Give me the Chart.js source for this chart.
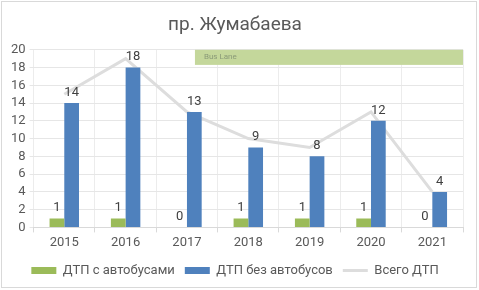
<!DOCTYPE html>
<html lang="ru">
<head>
    <meta charset="UTF-8">
    <title>пр. Жумабаева</title>
    <script src="https://cdn.jsdelivr.net/npm/chart.js"></script>
    <style>
        body {
            margin: 0;
            background: #ffffff;
            font-family: 'Roboto', sans-serif;
        }

        .chart-box {
            position: relative;
            width: 479px;
            height: 290px;
        }

        .chart-frame {
            position: absolute;
            left: 1px;
            top: 1px;
            width: 474px;
            height: 285px;
            border: 1px solid #d9d9d9;
            pointer-events: none;
        }
    </style>
</head>
<body>
    <div class="chart-box">
        <canvas id="accidentChart" width="479" height="290"></canvas>
        <div class="chart-frame"></div>
    </div>

    <script>
        // Data
        const years = ['2015', '2016', '2017', '2018', '2019', '2020', '2021'];
        const withBuses = [1, 1, 0, 1, 1, 1, 0];
        const withoutBuses = [14, 18, 13, 9, 8, 12, 4];
        const totalAccidents = [15, 19, 13, 10, 9, 13, 4];
        const yTicks = [0, 2, 4, 6, 8, 10, 12, 14, 16, 18, 20];

        // Bus Lane band, in scale units (category index / value)
        const busLaneX = [2.13, 6.5];
        const busLaneY = [18.3, 20];

        const textColor = '#595959';

        // green "Bus Lane" band behind the bars
        const busLanePlugin = {
            id: 'busLane',
            beforeDatasetsDraw(chart) {
                const { ctx, scales: { x, y } } = chart;
                const left = x.getPixelForValue(busLaneX[0]);
                const right = Math.min(x.getPixelForValue(busLaneX[1]), chart.chartArea.right);
                const top = y.getPixelForValue(busLaneY[1]);
                const bottom = y.getPixelForValue(busLaneY[0]);
                ctx.save();
                ctx.fillStyle = '#c4d79b';
                ctx.fillRect(left, top, right - left, bottom - top);
                ctx.fillStyle = '#8a9a78';
                ctx.font = '8px Roboto';
                ctx.textBaseline = 'middle';
                ctx.fillText('Bus Lane', left + 9, (top + bottom) / 2);
                ctx.restore();
            }
        };

        // value labels above each bar
        const barLabelsPlugin = {
            id: 'barLabels',
            afterDatasetsDraw(chart) {
                const { ctx } = chart;
                ctx.save();
                ctx.fillStyle = '#404040';
                ctx.font = '13px Roboto';
                ctx.textAlign = 'center';
                ctx.textBaseline = 'bottom';
                chart.data.datasets.forEach((ds, i) => {
                    if (ds.type !== 'bar') return;
                    chart.getDatasetMeta(i).data.forEach((bar, j) => {
                        ctx.fillText(ds.data[j], bar.x, bar.y - 4);
                    });
                });
                ctx.restore();
            }
        };

        const ctx = document.getElementById('accidentChart').getContext('2d');
        new Chart(ctx, {
            data: {
                labels: years,
                datasets: [
                    {
                        type: 'bar',
                        label: 'ДТП с автобусами',
                        data: withBuses,
                        backgroundColor: '#9bbb59',
                        pointStyle: 'rect',
                        categoryPercentage: 0.48,
                        barPercentage: 1,
                        order: 1
                    },
                    {
                        type: 'bar',
                        label: 'ДТП без автобусов',
                        data: withoutBuses,
                        backgroundColor: '#4f81bd',
                        pointStyle: 'rect',
                        categoryPercentage: 0.48,
                        barPercentage: 1,
                        order: 1
                    },
                    {
                        type: 'line',
                        label: 'Всего ДТП',
                        data: totalAccidents,
                        borderColor: '#dddddd',
                        backgroundColor: '#dddddd',
                        borderWidth: 3,
                        pointRadius: 0,
                        pointStyle: 'line',
                        pointBorderColor: '#dddddd',
                        pointBorderWidth: 3,
                        tension: 0,
                        order: 2
                    }
                ]
            },
            options: {
                responsive: false,
                animation: false,
                layout: {
                    padding: { left: 7, right: 16, top: 6, bottom: 3 }
                },
                plugins: {
                    title: {
                        display: true,
                        text: 'пр. Жумабаева',
                        color: textColor,
                        font: { family: 'Roboto', size: 19, weight: 'normal' },
                        padding: { top: 8, bottom: 13 }
                    },
                    legend: {
                        position: 'bottom',
                        labels: {
                            color: textColor,
                            font: { family: 'Roboto', size: 13 },
                            usePointStyle: true,
                            pointStyleWidth: 25,
                            boxHeight: 7,
                            padding: 10
                        }
                    },
                    tooltip: { enabled: false }
                },
                scales: {
                    x: {
                        grid: {
                            color: '#ececec',
                            offset: true,
                            tickLength: 5,
                            tickColor: '#d9d9d9'
                        },
                        border: { color: '#d9d9d9' },
                        ticks: {
                            color: textColor,
                            font: { family: 'Roboto', size: 13 },
                            padding: 3
                        }
                    },
                    y: {
                        min: 0,
                        max: 20,
                        afterBuildTicks(axis) {
                            axis.ticks = yTicks.map(v => ({ value: v }));
                        },
                        grid: {
                            color: '#e6e6e6',
                            tickLength: 4
                        },
                        border: { display: false },
                        ticks: {
                            autoSkip: false,
                            color: textColor,
                            font: { family: 'Roboto', size: 13 },
                            padding: 4
                        }
                    }
                }
            },
            plugins: [busLanePlugin, barLabelsPlugin]
        });
    </script>
</body>
</html>
